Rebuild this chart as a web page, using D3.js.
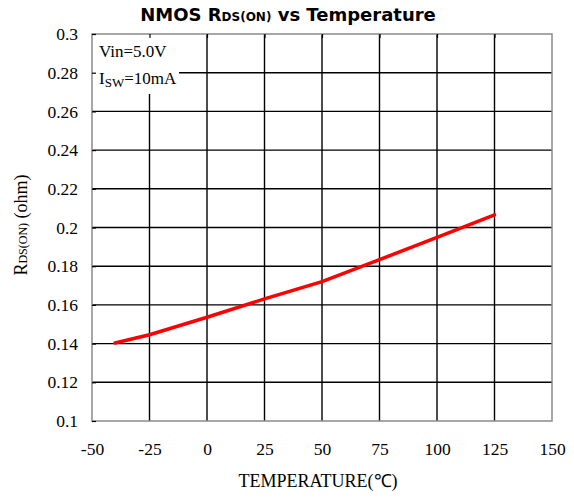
<!DOCTYPE html>
<html>
<head>
<meta charset="utf-8">
<script src="https://cdn.jsdelivr.net/npm/d3@7"></script>
<style>
  body { margin: 0; background: #fff; }
</style>
</head>
<body>
<svg id="chart" width="574" height="499"></svg>
<script>
// measured points along the red curve
const temps = [-40, -25, 0, 25, 50, 75, 100, 125];
const rdsOn = [0.1403, 0.1446, 0.1536, 0.1631, 0.1720, 0.1834, 0.1949, 0.2065];
const xTicks = [-50, -25, 0, 25, 50, 75, 100, 125, 150];
const yTicks = [0.1, 0.12, 0.14, 0.16, 0.18, 0.2, 0.22, 0.24, 0.26, 0.28, 0.3];

const svg = d3.select("#chart");
const margin = { left: 92, right: 22, top: 34, bottom: 78 };
const W = 574, H = 499;
const serif = "'Liberation Serif', 'Times New Roman', serif";

const x = d3.scaleLinear().domain([-50, 150]).range([margin.left, W - margin.right]);
const y = d3.scaleLinear().domain([0.1, 0.3]).range([H - margin.bottom, margin.top]);

// grid lines
const grid = svg.append("g");
grid.selectAll("line.v")
    .data(xTicks.slice(1, -1))
    .join("line").attr("class", "v")
    .attr("x1", d => x(d)).attr("x2", d => x(d))
    .attr("y1", y(0.3)).attr("y2", y(0.1))
    .attr("stroke", "#000").attr("stroke-width", 1.4);
grid.selectAll("line.h")
    .data(yTicks.slice(1, -1))
    .join("line").attr("class", "h")
    .attr("x1", x(-50)).attr("x2", x(150))
    .attr("y1", d => y(d)).attr("y2", d => y(d))
    .attr("stroke", "#000").attr("stroke-width", 1.4);

// white box behind the test conditions
svg.append("rect")
    .attr("x", x(-50)).attr("y", y(0.3))
    .attr("width", 87).attr("height", 60)
    .attr("fill", "#fff");

// the curve
const line = d3.line()
    .x((d, i) => x(temps[i]))
    .y(d => y(d));
svg.append("path")
    .datum(rdsOn)
    .attr("d", line)
    .attr("fill", "none")
    .attr("stroke", "#ff0000")
    .attr("stroke-width", 3.5)
    .attr("stroke-linecap", "round");

// plot frame
svg.append("rect")
    .attr("x", x(-50)).attr("y", y(0.3))
    .attr("width", x(150) - x(-50)).attr("height", y(0.1) - y(0.3))
    .attr("fill", "none").attr("stroke", "#8a8a8a").attr("stroke-width", 1.5);

// axes: inner ticks, labels outside
const yAxis = svg.append("g")
    .attr("transform", `translate(${x(-50)},0)`)
    .call(d3.axisLeft(y).tickValues(yTicks).tickSize(-4).tickPadding(14)
        .tickFormat(d => String(+d.toFixed(2))));
yAxis.select(".domain").remove();
yAxis.selectAll(".tick line").attr("stroke", "#000").attr("stroke-width", 1.2);

const topAxis = svg.append("g")
    .attr("transform", `translate(0,${y(0.3)})`)
    .call(d3.axisTop(x).tickValues(xTicks.slice(1, -1)).tickSize(-4).tickFormat(""));
topAxis.select(".domain").remove();
topAxis.selectAll(".tick line").attr("stroke", "#000").attr("stroke-width", 1.2);

const xAxis = svg.append("g")
    .attr("transform", `translate(0,${y(0.1)})`)
    .call(d3.axisBottom(x).tickValues(xTicks).tickSize(0).tickPadding(22)
        .tickFormat(d => String(d)));
xAxis.select(".domain").remove();

[yAxis, xAxis].forEach(g => {
    g.attr("font-family", null).attr("font-size", null);
    g.selectAll(".tick text")
        .style("font-family", serif)
        .style("font-size", "17.5px")
        .attr("fill", "#000");
});

// test conditions
const note = svg.append("g")
    .style("font-family", serif)
    .style("font-size", "17px")
    .attr("fill", "#000");
note.append("text").attr("x", 99).attr("y", 57).text("Vin=5.0V");
const isw = note.append("text").attr("x", 99).attr("y", 84);
isw.append("tspan").text("I");
isw.append("tspan").style("font-size", "13px").attr("dy", 3).text("SW");
isw.append("tspan").attr("dy", -3).text("=10mA");

// title
const title = svg.append("text")
    .attr("x", 288).attr("y", 21)
    .attr("text-anchor", "middle")
    .style("font-family", "'DejaVu Sans', sans-serif")
    .style("font-weight", "bold")
    .style("font-size", "18px");
title.append("tspan").text("NMOS R");
title.append("tspan").style("font-size", "12px").text("DS(ON)");
title.append("tspan").text(" vs Temperature");

// axis titles
svg.append("text")
    .attr("x", x(50) - 4).attr("y", 487)
    .attr("text-anchor", "middle")
    .style("font-family", serif)
    .style("font-size", "18px")
    .text("TEMPERATURE(℃)");

const yTitle = svg.append("text")
    .attr("transform", "translate(27,225) rotate(-90)")
    .attr("text-anchor", "middle")
    .style("font-family", serif)
    .style("font-size", "18px");
yTitle.append("tspan").text("R");
yTitle.append("tspan").style("font-size", "12px").text("DS(ON)");
yTitle.append("tspan").text(" (ohm)");
</script>
</body>
</html>
